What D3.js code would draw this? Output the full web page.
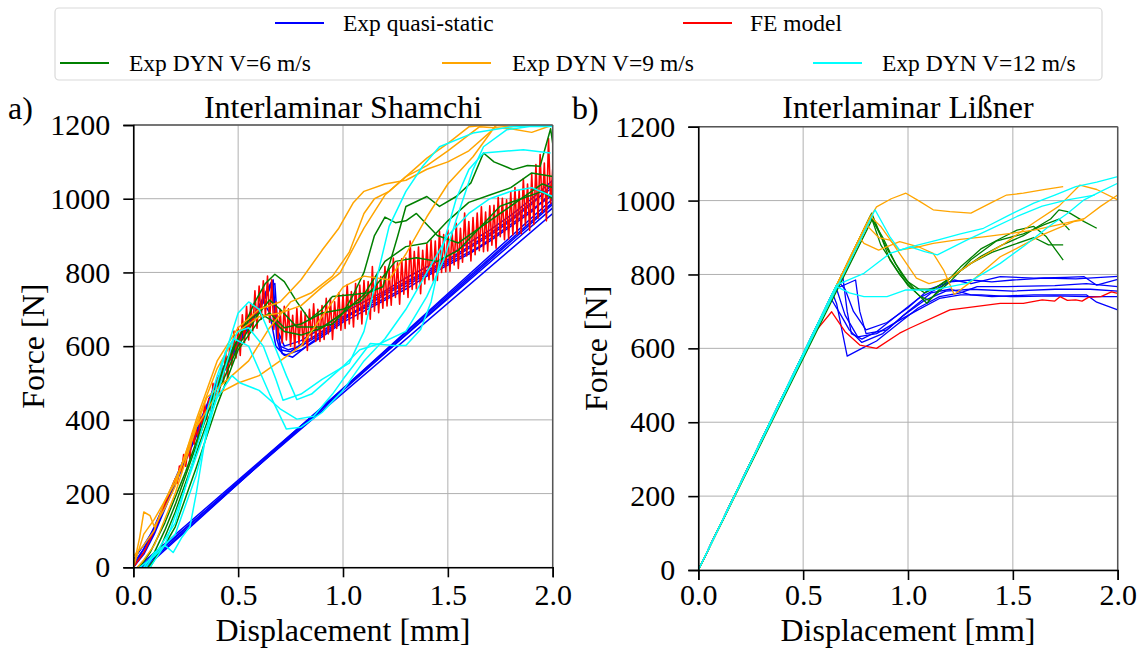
<!DOCTYPE html>
<html>
<head>
<meta charset="utf-8">
<script src="https://cdn.jsdelivr.net/npm/d3@7"></script>
<style>
  body { margin: 0; background: #fff; }
  svg { display: block; font-family: "Liberation Serif", "Times New Roman", serif; }
</style>
</head>
<body>
<svg id="fig" width="1143" height="652"></svg>
<script>
// ejes comunes
const xTicks = [0, 0.5, 1.0, 1.5, 2.0];
const yTicks = [0, 200, 400, 600, 800, 1000, 1200];
const legendLabels = ['Exp quasi-static', 'FE model', 'Exp DYN V=6 m/s', 'Exp DYN V=9 m/s', 'Exp DYN V=12 m/s'];

// ---------- a) Interlaminar Shamchi ----------
const shamchiQS = [
  [[0,0],[0.05,40],[0.1,95],[0.2,230],[0.3,360],[0.4,500],[0.5,610],[0.6,710],[0.64,750],[0.667,780],[0.684,620],[0.7,590],[0.75,585],[0.8,605],[0.9,640],[1.0,680],[1.1,705],[1.2,740],[1.3,770],[1.4,800],[1.5,830],[1.6,865],[1.7,900],[1.8,940],[1.9,985],[2.0,1040],[2.0,990],[0.04,0]],
  [[0,10],[0.05,50],[0.1,110],[0.2,240],[0.3,370],[0.4,510],[0.5,620],[0.6,700],[0.62,720],[0.65,690],[0.68,600],[0.72,575],[0.8,590],[0.9,625],[1.0,665],[1.1,695],[1.2,725],[1.3,755],[1.4,790],[1.5,820],[1.6,850],[1.7,885],[1.8,925],[1.9,965],[2.0,1020],[2.0,975],[0.02,0]],
  [[0,0],[0.05,35],[0.1,90],[0.2,225],[0.3,355],[0.4,495],[0.5,605],[0.6,700],[0.65,760],[0.675,770],[0.69,640],[0.72,600],[0.8,615],[0.9,650],[1.0,690],[1.1,720],[1.2,750],[1.3,785],[1.4,815],[1.5,845],[1.6,880],[1.7,915],[1.8,955],[1.9,1000],[2.0,1050],[2.0,1000],[0.06,0]],
  [[0,20],[0.05,60],[0.1,105],[0.2,235],[0.3,365],[0.4,505],[0.5,615],[0.6,705],[0.64,740],[0.66,770],[0.68,660],[0.71,580],[0.76,570],[0.85,610],[0.95,650],[1.05,690],[1.15,715],[1.25,745],[1.35,780],[1.45,810],[1.55,840],[1.65,870],[1.75,910],[1.85,950],[1.95,990],[2.0,1010],[2.0,960],[0.03,0]],
  [[0,0],[0.1,100],[0.2,232],[0.3,362],[0.4,500],[0.5,612],[0.6,708],[0.63,745],[0.66,775],[0.675,700],[0.7,600],[0.74,590],[0.8,600],[0.9,635],[1.0,675],[1.1,710],[1.2,745],[1.3,775],[1.4,805],[1.5,835],[1.6,870],[1.7,905],[1.8,945],[1.9,990],[2.0,1030],[2.0,985],[0.05,0]]
];

// FE: desplazamiento (paso 0.01 desde 0.20) y fuerza (ruidosa)
const shamchiFEStart = [[0,0],[0.05,40],[0.1,100],[0.15,170]];
const shamchiFEForce = [
  240,228,275,258,306,274,321,294,362,334,
  377,345,412,380,443,401,458,416,499,456,
  514,467,554,502,585,513,600,548,641,568,
  651,575,685,609,708,617,716,641,750,649,
  763,673,777,681,790,665,780,645,720,620,
  700,609,708,617,701,600,684,593,702,606,
  695,603,690,588,700,618,715,613,700,613,
  710,618,730,633,730,618,720,648,745,643,
  740,648,767,660,748,652,770,673,766,660,
  778,686,775,673,816,695,793,691,789,703,
  816,709,807,711,839,732,826,714,837,741,
  839,732,885,754,857,755,869,742,860,769,
  877,780,888,777,885,778,912,800,903,802,
  915,803,911,820,933,811,920,828,961,845,
  938,831,949,848,961,859,978,856,964,858,
  981,874,982,866,1004,897,1001,889,997,891,
  1019,902,1030,904,1022,905,1054,927,1040,914,
  1067,930,1093,947,1120,963,1097,940,1163,987,1080
];

const shamchiV6 = [
  [[0.05,0],[0.1,40],[0.15,100],[0.2,170],[0.3,330],[0.4,490],[0.5,620],[0.58,720],[0.63,770],[0.675,795],[0.72,775],[0.78,720],[0.84,672],[0.9,700],[0.95,735],[1.05,740],[1.12,745],[1.19,761],[1.26,897],[1.3,979],[1.4,1006],[1.46,979],[1.54,1006],[1.61,1043],[1.67,1124],[1.72,1100],[1.81,1079],[1.88,1090],[1.94,1088],[1.99,1190],[2.0,1150]],
  [[0.08,0],[0.12,40],[0.2,150],[0.3,310],[0.4,470],[0.5,600],[0.6,690],[0.65,725],[0.7,700],[0.78,652],[0.89,652],[0.95,660],[1.0,690],[1.05,740],[1.1,800],[1.15,900],[1.2,950],[1.25,935],[1.3,940],[1.35,960],[1.4,930],[1.45,900],[1.55,880],[1.65,920],[1.75,960],[1.85,1000],[1.95,1020],[2.0,1000]],
  [[0.03,0],[0.08,40],[0.15,120],[0.25,260],[0.35,420],[0.45,570],[0.55,670],[0.6,690],[0.66,670],[0.72,640],[0.8,630],[0.9,650],[1.0,690],[1.1,740],[1.2,830],[1.3,870],[1.4,880],[1.5,940],[1.6,990],[1.7,1010],[1.8,1030],[1.9,1070],[2.0,1060]],
  [[0.07,0],[0.1,20],[0.15,60],[0.2,110],[0.3,270],[0.4,440],[0.5,590],[0.6,670],[0.65,690],[0.72,650],[0.8,660],[0.9,690],[1.0,700],[1.08,720],[1.15,760],[1.25,830],[1.35,840],[1.45,830],[1.55,860],[1.65,920],[1.75,980],[1.85,1000],[1.95,1040],[2.0,1030]]
];

const shamchiV9 = [
  [[0,0],[0.03,80],[0.05,150],[0.08,140],[0.1,110],[0.15,160],[0.2,220],[0.3,400],[0.4,560],[0.5,650],[0.6,700],[0.7,720],[0.8,780],[0.9,860],[0.98,920],[1.05,990],[1.1,1020],[1.2,1040],[1.3,1050],[1.4,1080],[1.5,1100],[1.6,1130],[1.7,1180],[1.75,1210]],
  [[0,30],[0.05,60],[0.1,100],[0.15,180],[0.25,300],[0.35,460],[0.45,510],[0.55,560],[0.65,650],[0.75,720],[0.85,745],[0.95,790],[1.03,855],[1.1,960],[1.15,1000],[1.22,1020],[1.3,1060],[1.4,1110],[1.5,1150],[1.6,1195],[1.7,1200],[1.8,1195],[1.9,1200],[2.0,1200]],
  [[0.02,0],[0.05,20],[0.1,60],[0.2,200],[0.3,380],[0.4,470],[0.5,500],[0.6,520],[0.7,560],[0.8,600],[0.9,680],[1.0,760],[1.1,790],[1.22,780],[1.3,850],[1.4,951],[1.5,1040],[1.62,1114],[1.73,1200]],
  [[0,0],[0.05,90],[0.1,130],[0.2,230],[0.3,390],[0.4,540],[0.5,640],[0.6,680],[0.7,690],[0.8,710],[0.9,760],[0.986,799],[1.1,920],[1.2,1010],[1.3,1060],[1.4,1090],[1.5,1130],[1.65,1195],[1.8,1190],[1.9,1180],[2.0,1200]]
];

const shamchiV12 = [
  [[0.05,0],[0.1,40],[0.15,60],[0.19,40],[0.23,80],[0.27,110],[0.3,200],[0.35,373],[0.4,500],[0.445,590],[0.5,640],[0.55,650],[0.62,600],[0.68,510],[0.714,453],[0.8,470],[0.9,510],[1.03,554],[1.1,640],[1.22,925],[1.3,1020],[1.38,1088],[1.46,1141],[1.62,1178],[1.81,1196],[2.0,1200]],
  [[0.06,0],[0.12,50],[0.2,120],[0.3,320],[0.4,520],[0.45,600],[0.5,690],[0.55,720],[0.6,700],[0.66,620],[0.73,520],[0.78,455],[0.85,470],[0.95,520],[1.0,545],[1.08,590],[1.18,608],[1.3,640],[1.4,735],[1.48,834],[1.54,943],[1.62,1079],[1.67,1141],[1.78,1187],[1.89,1196],[2.0,1196]],
  [[0.08,0],[0.15,60],[0.2,140],[0.3,300],[0.4,460],[0.47,520],[0.51,500],[0.6,480],[0.7,430],[0.78,402],[0.86,410],[0.95,470],[1.0,510],[1.13,607],[1.24,602],[1.3,602],[1.37,645],[1.42,720],[1.48,880],[1.54,1000],[1.6,1079],[1.67,1124],[1.86,1133],[1.99,1124]],
  [[0.03,0],[0.1,30],[0.2,90],[0.3,250],[0.4,470],[0.48,620],[0.55,600],[0.65,470],[0.73,375],[0.8,380],[0.9,420],[1.0,480],[1.1,560],[1.2,620],[1.3,700],[1.4,800],[1.5,900],[1.6,960],[1.7,1000],[1.8,1020],[1.9,1030],[2.0,1006]]
];

// ---------- b) Interlaminar Lißner ----------
const lissnerQS = [
  [[0,0],[0.66,772],[0.69,790],[0.71,700],[0.73,640],[0.78,625],[0.85,645],[0.95,690],[1.05,735],[1.15,765],[1.22,785],[1.3,775],[1.44,794],[1.6,790],[1.75,792],[1.84,794],[1.9,771],[2.0,787]],
  [[0,0],[0.64,749],[0.66,720],[0.71,579],[0.78,600],[0.85,620],[0.95,665],[1.05,710],[1.15,740],[1.25,750],[1.33,767],[1.47,767],[1.7,770],[1.85,775],[2.0,767]],
  [[0,0],[0.62,725],[0.66,760],[0.70,690],[0.76,631],[0.85,640],[0.962,677],[1.05,705],[1.15,735],[1.25,745],[1.35,745],[1.49,740],[1.7,742],[1.85,740],[2.0,740]],
  [[0,0],[0.65,760],[0.75,785],[0.77,700],[0.8,640],[0.9,650],[1.0,700],[1.11,750],[1.2,760],[1.3,745],[1.4,740],[1.6,745],[1.85,745],[1.9,725],[2.0,704]],
  [[0,0],[0.63,737],[0.68,690],[0.72,650],[0.78,616],[0.88,640],[0.98,690],[1.08,730],[1.18,755],[1.3,760],[1.5,755],[1.7,760],[1.87,760],[2.0,755]],
  [[0,0],[0.67,780],[0.7,760],[0.74,700],[0.8,650],[0.9,670],[1.0,710],[1.1,760],[1.2,780],[1.3,785],[1.4,780],[1.5,785],[1.65,790],[1.8,788],[2.0,795]]
];

const lissnerFE = [[0,0],[0.55,640],[0.636,699],[0.7,645],[0.77,609],[0.85,600],[0.96,641],[1.01,655],[1.2,704],[1.44,722],[1.55,722],[1.64,731],[1.7,728],[1.725,740],[1.76,730],[1.8,731],[1.83,728],[1.86,738],[1.92,740],[1.97,753],[2.0,749]];

const lissnerV6 = [
  [[0,0],[0.827,966],[0.86,920],[0.914,839],[0.96,800],[1.01,767],[1.09,722],[1.15,760],[1.25,820],[1.35,870],[1.45,900],[1.52,920],[1.6,930],[1.66,902],[1.7,870],[1.74,839]],
  [[0,0],[0.82,958],[0.88,900],[0.94,830],[1.0,780],[1.08,750],[1.15,770],[1.25,810],[1.35,850],[1.45,880],[1.55,905],[1.62,930],[1.68,950],[1.72,975],[1.76,970],[1.84,943],[1.9,925]],
  [[0,0],[0.83,950],[0.9,870],[0.97,800],[1.03,760],[1.12,760],[1.2,790],[1.3,830],[1.4,860],[1.5,880],[1.6,900],[1.67,880],[1.74,880]],
  [[0,0],[0.825,955],[0.87,880],[0.95,810],[1.0,770],[1.06,740],[1.1,730],[1.2,780],[1.3,840],[1.42,890],[1.55,910],[1.65,935],[1.72,950],[1.77,920]]
];

const lissnerV9 = [
  [[0,0],[0.825,960],[0.85,983],[0.92,1005],[0.99,1020],[1.05,1000],[1.12,975],[1.2,970],[1.3,966],[1.4,995],[1.47,1015],[1.55,1020],[1.64,1029],[1.74,1038]],
  [[0,0],[0.77,900],[0.79,884],[0.86,866],[0.96,889],[1.05,875],[1.12,857],[1.17,812],[1.22,746],[1.3,780],[1.44,848],[1.55,880],[1.64,907],[1.79,943],[1.84,948]],
  [[0,0],[0.8,935],[0.86,900],[0.914,893],[0.96,866],[1.05,875],[1.12,884],[1.25,895],[1.36,902],[1.5,912],[1.6,920],[1.72,935],[1.84,951],[1.92,985],[2.0,1015]],
  [[0,0],[0.82,958],[0.87,930],[0.92,890],[0.98,840],[1.04,790],[1.1,775],[1.2,790],[1.3,830],[1.45,880],[1.6,940],[1.72,985],[1.82,1042],[1.9,1030],[2.0,1002]]
];

const lissnerV12 = [
  [[0,0],[0.843,975],[0.914,902],[0.96,866],[1.05,880],[1.14,893],[1.25,910],[1.36,925],[1.48,960],[1.6,993],[1.7,1015],[1.8,1038],[1.9,1050],[2.0,1065]],
  [[0,0],[0.66,772],[0.79,803],[0.914,857],[1.01,875],[1.08,862],[1.14,853],[1.28,893],[1.4,925],[1.52,957],[1.64,985],[1.76,1002],[1.89,1015]],
  [[0,0],[0.64,750],[0.66,767],[0.72,750],[0.79,740],[0.9,740],[0.99,758],[1.12,758],[1.28,776],[1.44,830],[1.56,880],[1.67,929],[1.76,965],[1.84,1002],[1.92,1025],[2.0,1047]]
];

(function () {
  const svg = d3.select('#fig');
  const COL = { qs: '#0000ff', fe: '#ff0000', v6: '#008000', v9: '#ffa500', v12: '#00ffff' };
  const TICK_FONT = 30, LABEL_FONT = 32;
  const SERIF = '"Liberation Serif", "Times New Roman", serif';

  // serie FE de Shamchi: tramo inicial + tramo ruidoso con paso 0.01
  const shamchiFE = shamchiFEStart.concat(shamchiFEForce.map((f, i) => [0.2 + i * 0.01, f]));

  function drawPanel(cfg) {
    const x = d3.scaleLinear().domain([0, 2]).range([cfg.x0, cfg.x1]);
    const y = d3.scaleLinear().domain([0, 1200]).range([cfg.y0, cfg.y1]);
    const g = svg.append('g');

    // grilla
    g.append('g').selectAll('line').data(xTicks).join('line')
      .attr('x1', d => x(d)).attr('x2', d => x(d))
      .attr('y1', cfg.y0).attr('y2', cfg.y1)
      .attr('stroke', '#b0b0b0').attr('stroke-width', 1);
    g.append('g').selectAll('line').data(yTicks).join('line')
      .attr('y1', d => y(d)).attr('y2', d => y(d))
      .attr('x1', cfg.x0).attr('x2', cfg.x1)
      .attr('stroke', '#b0b0b0').attr('stroke-width', 1);

    const clipId = 'clip-' + cfg.id;
    svg.append('defs').append('clipPath').attr('id', clipId)
      .append('rect').attr('x', cfg.x0).attr('y', cfg.y1)
      .attr('width', cfg.x1 - cfg.x0).attr('height', cfg.y0 - cfg.y1);

    const line = d3.line().x(d => x(d[0])).y(d => y(d[1]));
    const gl = g.append('g').attr('clip-path', `url(#${clipId})`);
    cfg.series.forEach(s => {
      gl.append('g').selectAll('path').data(s.curves).join('path')
        .attr('d', line)
        .attr('fill', 'none')
        .attr('stroke', s.color)
        .attr('stroke-width', s.width)
        .attr('stroke-linejoin', 'round');
    });

    // bordes superior / derecho
    g.append('line').attr('x1', cfg.x0).attr('x2', cfg.x1).attr('y1', cfg.y1).attr('y2', cfg.y1)
      .attr('stroke', '#555').attr('stroke-width', 1.5);
    g.append('line').attr('x1', cfg.x1).attr('x2', cfg.x1).attr('y1', cfg.y0).attr('y2', cfg.y1)
      .attr('stroke', '#555').attr('stroke-width', 1.5);

    const ax = g.append('g').attr('transform', `translate(0,${cfg.y0})`)
      .call(d3.axisBottom(x).tickValues(xTicks).tickFormat(d3.format('.1f')).tickSize(10).tickPadding(cfg.xPad));
    const ay = g.append('g').attr('transform', `translate(${cfg.x0},0)`)
      .call(d3.axisLeft(y).tickValues(yTicks).tickFormat(d3.format('d')).tickSize(10).tickPadding(13));
    [ax, ay].forEach(a => {
      a.attr('font-family', SERIF);
      a.select('.domain').attr('stroke', '#000').attr('stroke-width', 1.6);
      a.selectAll('.tick line').attr('stroke', '#000').attr('stroke-width', 1.6);
      a.selectAll('text').attr('fill', '#000').attr('font-size', TICK_FONT);
    });

    const cx = (cfg.x0 + cfg.x1) / 2;
    g.append('text').attr('x', cx).attr('y', 118)
      .attr('text-anchor', 'middle').attr('font-size', LABEL_FONT).text(cfg.title);
    g.append('text').attr('x', cfg.tagX).attr('y', 119)
      .attr('font-size', LABEL_FONT).text(cfg.tag);
    g.append('text').attr('x', cx).attr('y', 641)
      .attr('text-anchor', 'middle').attr('font-size', LABEL_FONT).text('Displacement [mm]');
    g.append('text')
      .attr('transform', `translate(${cfg.ylabX},${(cfg.y0 + cfg.y1) / 2}) rotate(-90)`)
      .attr('text-anchor', 'middle').attr('font-size', LABEL_FONT).text('Force [N]');
  }

  drawPanel({
    id: 'a', x0: 133.3, x1: 552.7, y0: 567.3, y1: 125, xPad: 6,
    title: 'Interlaminar Shamchi', tag: 'a)', tagX: 8, ylabX: 44,
    series: [
      { curves: shamchiQS, color: COL.qs, width: 1.5 },
      { curves: [shamchiFE], color: COL.fe, width: 1.6 },
      { curves: shamchiV6, color: COL.v6, width: 1.5 },
      { curves: shamchiV9, color: COL.v9, width: 1.5 },
      { curves: shamchiV12, color: COL.v12, width: 1.5 }
    ]
  });

  drawPanel({
    id: 'b', x0: 698.3, x1: 1117.7, y0: 570, y1: 126.7, xPad: 4,
    title: 'Interlaminar Lißner', tag: 'b)', tagX: 572, ylabX: 607,
    series: [
      { curves: lissnerQS, color: COL.qs, width: 1.3 },
      { curves: [lissnerFE], color: COL.fe, width: 1.3 },
      { curves: lissnerV6, color: COL.v6, width: 1.3 },
      { curves: lissnerV9, color: COL.v9, width: 1.3 },
      { curves: lissnerV12, color: COL.v12, width: 1.3 }
    ]
  });

  // leyenda
  const leg = svg.append('g');
  leg.append('rect').attr('x', 55).attr('y', 8).attr('width', 1047).attr('height', 72)
    .attr('rx', 4).attr('fill', '#fff').attr('stroke', '#d9d9d9').attr('stroke-width', 1.2);
  const legItems = [
    { lx: 275, tx: 343, y: 23, c: COL.qs },
    { lx: 683, tx: 750, y: 23, c: COL.fe },
    { lx: 60, tx: 129, y: 63, c: COL.v6 },
    { lx: 442, tx: 512, y: 63, c: COL.v9 },
    { lx: 813, tx: 882, y: 63, c: COL.v12 }
  ];
  legItems.forEach((it, i) => {
    leg.append('line').attr('x1', it.lx).attr('x2', it.lx + 49).attr('y1', it.y).attr('y2', it.y)
      .attr('stroke', it.c).attr('stroke-width', 2);
    leg.append('text').attr('x', it.tx).attr('y', it.y + 8)
      .attr('font-size', 23.5).attr('fill', '#000').text(legendLabels[i]);
  });
})();
</script>
</body>
</html>
